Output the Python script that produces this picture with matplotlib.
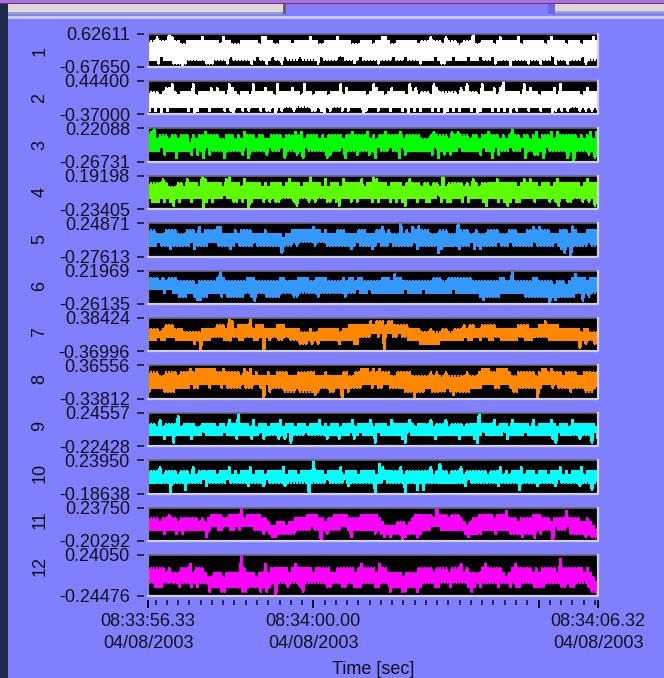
import numpy as np
import matplotlib
matplotlib.use('Agg')
import matplotlib.pyplot as plt
from matplotlib.patches import Rectangle
from matplotlib.lines import Line2D

plt.rcParams['font.family'] = ['Liberation Sans', 'DejaVu Sans']

W, H = 664, 678
BG = '#8080FF'
INK = '#101018'

# strip ranges (the min / max labels of every channel)
ch_max = [0.62611, 0.44400, 0.22088, 0.19198, 0.24871, 0.21969,
          0.38424, 0.36556, 0.24557, 0.23950, 0.23750, 0.24050]
ch_min = [-0.67650, -0.37000, -0.26731, -0.23405, -0.27613, -0.26135,
          -0.36996, -0.33812, -0.22428, -0.18638, -0.20292, -0.24476]
ch_colors = ['#FFFFFF', '#FFFFFF', '#00FF00', '#5CFF00', '#3399FF', '#3399FF',
             '#FF8800', '#FF8800', '#00FFFF', '#00FFFF', '#FF00FF', '#FF00FF']

# time axis: seconds after 08:33:56.33
t_span = 9.99
t_major = [0.0, 3.67, 8.67, 9.99]
t_major_labels = ['08:33:56.33\n04/08/2003', '08:34:00.00\n04/08/2003', '',
                  '08:34:06.32\n04/08/2003']
t_minor_step = 0.25
t_minor_first = 0.17

# traces, read column by column off the strips (3 px per column):
# peak and trough of the signal in tenths of the strip (0 = bottom, 9 = top)
ch1_hi = "7778777987 7667777787 7777687766 6777777688 7766777767 7777877667 7778777766 6777767788 7667777777 6777877768 7776677796 6777767877 7778677777 7767877776 7777677787"
ch1_lo = "2221322211 1012222221 1122221322 2222123221 2322132222 3222221322 2223322212 3222221222 2322232222 1222232112 2322223222 3222312222 0222221222 1222312221 2222312222"
ch2_hi = "6666567786 5666685666 6767665876 5666586667 6658666676 6586656666 5666857666 6665687665 6766665867 5666587666 6665768666 5866675796 6666586766 5666675866 6666567666"
ch2_lo = "1212021222 2221201222 1222212102 2121222121 1202122212 2222112102 1222121222 2012221222 1222120212 1222121201 2121222120 1222121212 0212221222 1222012121 2221212121"
ch3_hi = "7896777677 6777576778 7777667776 7687776776 6777767778 7867777676 7777767787 7778676778 7777867777 7666787777 6878777677 6778777676 7977677678 6777868777 7776767868"
ch3_lo = "3333423331 3333242314 2333313333 3241333332 4333413332 3143333331 2333413332 3332314333 4331423333 3333241323 2334333333 2433142333 4333413322 3143333331 3033332314"
ch4_hi = "7777787666 7768777698 7777768977 7687777767 6777767877 7677977768 6777687777 7867798777 6777767877 7677677696 7777767687 6777778777 7776787877 6777678777 7777678777"
ch4_lo = "3222323213 2333233302 3233343322 3230233323 2322333321 3332323332 2321333232 3333232333 2323213332 3322334232 2333242333 3213332321 2322333323 3332321332 2333232313"
ch5_hi = "7776667777 6667776867 7778866667 6777766667 6666656677 7777787767 6667776666 7776667786 7666967687 8777666777 6669777667 6667777666 7776667787 8777666777 6876667777"
ch5_lo = "3334333233 3333423333 4443333234 3333343333 3333133343 4444434443 3333333234 3333234333 4333333342 3333331233 3332333423 2333334333 4333333343 3333343213 0333334333"
ch6_hi = "7777676777 6666665666 6667976666 6667776666 6666776666 7777667777 6666676776 7766666677 7687766666 6666677766 7777777766 6666666776 6966666677 6666656665 6787776777"
ch6_lo = "4444434433 2223321122 3333232222 2233213332 2222333322 3333332333 3333323334 3334333333 3333343333 3433333333 3433333333 2122222333 3333322222 2220212222 2233132333"
ch7_hi = "6666567776 6655555566 6667776986 7777967776 6667776666 6555655666 6666566777 7777878887 8877777666 6555655566 5566676776 6777776666 6667777666 7787777666 6666566555"
ch7_lo = "3334334443 3333323033 3444433344 3344433404 3443344333 2223232333 3332333322 4444554505 5445443333 2222222333 3333343344 3443344333 3334433344 4443333333 3331323322"
ch8_hi = "7777667777 6777878888 8887787777 7687867666 7667777666 7777776667 6666677667 7888787877 7667777766 6666767667 6666667666 7888778888 7667777776 7887877767 7776677777"
ch8_lo = "2333322223 3333433444 3444343333 3433344304 2333322223 2222212333 2233032333 3444343344 3333322202 2233222223 2122222333 3444433444 3223333330 3444343333 2333322233"
ch9_hi = "6665756666 8566665566 6665665766 9666575666 5666756665 6665666756 5666566675 6666756666 5766666765 6666756667 5666656666 9666675666 5766666575 6666765666 5766666665"
ch9_lo = "3333323313 3333233343 3333343332 3333233423 3332324133 3343333332 3332333423 4333314333 3333214333 3333323333 3332333321 3433333342 3333343333 3333214333 3332333142"
ch10_hi = "6666756666 5666575666 6665666756 5666756665 6666675666 5666696665 6666756666 5666665876 6666756666 6666756866 5666756666 6665666756 5666756665 6665666756 5666756666"
ch10_lo = "3333333033 3313333342 3333334333 3332333324 3333323333 3330333334 3333342333 3333303343 3333303331 3133333333 3333324333 3333332333 3331333332 3333324333 3332333133"
ch11_hi = "6666566766 5666666565 6777766777 7967777766 5445554556 6667777665 6677777666 6777777654 4445554567 7777769777 6777654566 7777767778 6665666677 7666566668 6666556543"
ch11_lo = "3333323332 3233333331 3443344334 3444433323 2112222223 3333433032 3333443133 3333323212 1222012221 2333444333 3333321222 2333323333 2222122213 2333043334 2222212111"
ch12_hi = "5666665655 5666756665 4455545555 5965554557 5666666567 6666656666 6556666665 6766665766 5555545555 6666656666 5666756555 5676666654 5676666656 5666665866 6666656543"
ch12_lo = "3322233333 2333232333 1222112222 2112222121 2303332333 2133333332 2333223322 2333322333 1222112221 2333322333 2333332123 2333332333 2322333322 2233333223 2233332110"

ch_hi = [ch1_hi, ch2_hi, ch3_hi, ch4_hi, ch5_hi, ch6_hi,
         ch7_hi, ch8_hi, ch9_hi, ch10_hi, ch11_hi, ch12_hi]
ch_lo = [ch1_lo, ch2_lo, ch3_lo, ch4_lo, ch5_lo, ch6_lo,
         ch7_lo, ch8_lo, ch9_lo, ch10_lo, ch11_lo, ch12_lo]


def levels(s):
    return np.array([int(c) for c in s.replace(' ', '')], dtype=float)


fig = plt.figure(figsize=(W / 100, H / 100), dpi=100, facecolor=BG)


def box(x0, y0, x1, y1, color):
    # rectangle in screen pixels (y down)
    fig.patches.append(Rectangle((x0 / W, 1 - y1 / H), (x1 - x0) / W, (y1 - y0) / H,
                                 transform=fig.transFigure, color=color, lw=0))


# window chrome round the graph
box(0, 3, W, 4, '#FF0000')
box(0, 4, 8, H, '#1E2A4C')
box(8, 4, 285, 13, '#D8D8E0')
box(8, 12, 285, 14, '#A0A0B8')
box(283, 4, 286, 14, '#606070')
box(548, 4, 555, 14, '#6868E8')
box(555, 4, W, 12, '#D8D8E0')
box(555, 11, W, 12.5, '#A8A8C0')
box(8, 16.5, W, 18.5, '#C8C8FF')

tops = [33.5 + 47.4 * i for i in range(12)]
heights = [33.4] * 11 + [41.0]

for i in range(12):
    top, h = tops[i], heights[i]
    ax = fig.add_axes([148 / W, 1 - (top + h) / H, 450 / W, h / H])
    ax.set_facecolor('black')

    hi = levels(ch_hi[i])
    lo = levels(ch_lo[i])
    n = min(len(hi), len(lo))
    sig = np.empty(2 * n)
    sig[0::2] = hi[:n]
    sig[1::2] = lo[:n]
    vals = ch_min[i] + sig / 9 * (ch_max[i] - ch_min[i])
    t = np.linspace(0, t_span, 2 * n)
    ax.plot(t, vals, color=ch_colors[i], lw=1.3, antialiased=False)

    ax.set_xlim(0, t_span)
    ax.set_ylim(ch_min[i], ch_max[i])

    for s in ax.spines.values():
        s.set_visible(False)
    ax.spines['left'].set_position(('outward', 3))
    ax.spines['bottom'].set_position(('outward', 3))

    # strip frame
    ax.add_line(Line2D([0, 1], [1, 1], transform=ax.transAxes, color='#6A6A7C', lw=1.2, clip_on=False))
    ax.add_line(Line2D([0, 0], [0, 1], transform=ax.transAxes, color='#8A8A9C', lw=1.0, clip_on=False))
    ax.add_line(Line2D([0, 1, 1], [0, 0, 1], transform=ax.transAxes, color='#D0D0D8', lw=1.6, clip_on=False))

    ax.set_yticks([ch_min[i], ch_max[i]])
    ax.set_yticklabels([f'{ch_min[i]:.5f}', f'{ch_max[i]:.5f}'])
    ax.tick_params(axis='y', direction='out', length=5, width=1.1, color=INK,
                   pad=5, labelsize=13, labelcolor=INK)

    if i < 11:
        ax.set_xticks([])
    else:
        ax.set_xticks(t_major)
        ax.set_xticklabels(t_major_labels)
        for lab in ax.get_xticklabels():
            lab.set_linespacing(1.4)
        ax.set_xticks(np.arange(t_minor_first, t_span, t_minor_step), minor=True)
        ax.tick_params(axis='x', which='major', direction='out', length=6, width=1.4,
                       color=INK, pad=3, labelsize=13, labelcolor=INK)
        ax.tick_params(axis='x', which='minor', direction='out', length=3.3, width=1.1,
                       color=INK)
        ax.set_xlabel('Time [sec]', fontsize=13, color=INK, labelpad=7)

    # channel number
    fig.text(40 / W, 1 - (51.5 + 46.8 * i) / H, str(i + 1), rotation=90,
             ha='center', va='center', fontsize=13, color=INK)

fig.savefig('out.png', dpi=100, facecolor=BG)
